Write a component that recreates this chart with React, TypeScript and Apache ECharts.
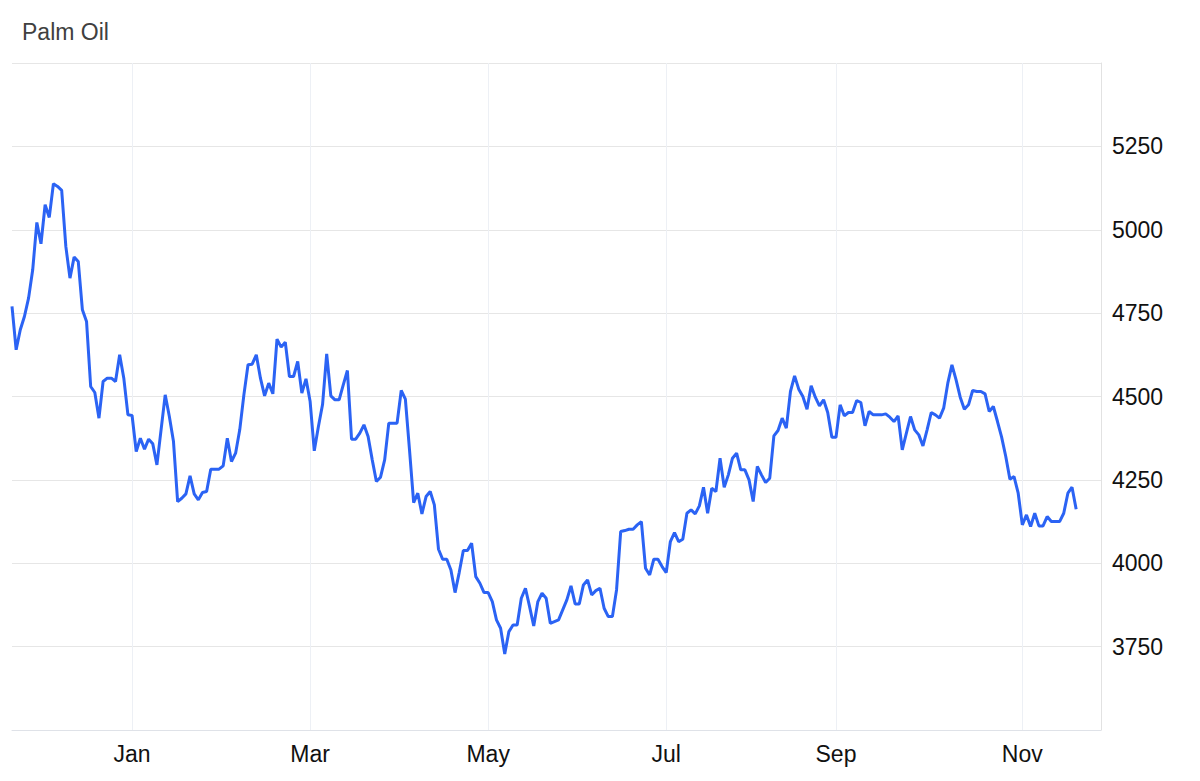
import React, { useEffect, useRef } from "react";
import * as echarts from "echarts";

const title = "Palm Oil";

const prices: number[] = [
  4770, 4640, 4700, 4740, 4795, 4880, 5022, 4958, 5075, 5037,
  5138, 5130, 5118, 4950, 4855, 4918, 4905, 4760, 4725, 4530,
  4512, 4435, 4545, 4555, 4555, 4545, 4625, 4555, 4445, 4443,
  4335, 4375, 4342, 4372, 4358, 4295, 4400, 4505, 4440, 4365,
  4185, 4195, 4208, 4262, 4208, 4190, 4212, 4215, 4282, 4282,
  4282, 4292, 4375, 4305, 4330, 4400, 4505, 4595, 4597, 4625,
  4555, 4502, 4540, 4508, 4672, 4648, 4663, 4560, 4560, 4605,
  4510, 4553, 4485, 4337, 4410, 4476, 4628, 4502, 4490, 4490,
  4535, 4578, 4372, 4372, 4390, 4415, 4380, 4310, 4245, 4258,
  4310, 4420, 4420, 4420, 4518, 4492, 4340, 4182, 4210, 4148,
  4200, 4215, 4175, 4042, 4012, 4012, 3980, 3912, 3972, 4038,
  4038, 4060, 3960, 3940, 3912, 3912, 3885, 3830, 3805, 3728,
  3795, 3815, 3815, 3895, 3925, 3870, 3812, 3885, 3910, 3895,
  3820, 3825, 3830, 3860, 3890, 3932, 3878, 3878, 3935, 3950,
  3905, 3918, 3925, 3865, 3840, 3840, 3920, 4095, 4098, 4102,
  4102, 4115, 4125, 3985, 3965, 4012, 4012, 3990, 3972, 4065,
  4092, 4065, 4072, 4150, 4160, 4148, 4172, 4228, 4150, 4225,
  4215, 4315, 4228, 4265, 4315, 4330, 4280, 4280, 4250, 4185,
  4290, 4265, 4242, 4255, 4382, 4398, 4435, 4405, 4515, 4562,
  4522, 4500, 4462, 4532, 4498, 4472, 4490, 4452, 4378, 4378,
  4475, 4442, 4452, 4452, 4488, 4482, 4412, 4455, 4445, 4445,
  4445, 4448, 4438, 4425, 4442, 4340, 4390, 4440, 4400, 4385,
  4352, 4400, 4452, 4445, 4435, 4465, 4540, 4595, 4550, 4498,
  4462, 4475, 4518, 4515, 4515, 4508, 4455, 4470, 4425, 4378,
  4320, 4252, 4260, 4210, 4115, 4145, 4110, 4150, 4112, 4112,
  4140, 4125, 4125, 4125, 4150, 4210, 4228, 4162,
];

// month tick labels and the trading-day position where each month starts
const monthLabels = ["Jan", "Mar", "May", "Jul", "Sep", "Nov"];
const monthIndex = [29, 72, 115, 158, 199, 244];
// total number of trading-day slots on the axis (data plus empty tail)
const slotCount = 264;

const yTicks = { min: 3500, max: 5500, step: 250 };

export default function App() {
  const ref = useRef<HTMLDivElement>(null);

  useEffect(() => {
    if (!ref.current) return;
    const chart = echarts.init(ref.current, undefined, { renderer: "svg" });

    const categories: string[] = [];
    for (let i = 0; i < slotCount; i++) {
      const k = monthIndex.indexOf(i);
      categories.push(k >= 0 ? monthLabels[k] : String(i));
    }
    const isTick = (idx: number) => monthIndex.indexOf(idx) >= 0;
    const font = "Arial, 'Liberation Sans', Helvetica, sans-serif";

    chart.setOption({
      animation: false,
      backgroundColor: "#ffffff",
      title: {
        text: title,
        left: 17,
        top: 15,
        textStyle: {
          fontSize: 23,
          fontWeight: "normal",
          color: "#404040",
          fontFamily: font,
        },
      },
      grid: { left: 12, right: 99, top: 63, bottom: 51, containLabel: false },
      xAxis: {
        type: "category",
        data: categories,
        boundaryGap: false,
        axisLine: { show: true, lineStyle: { color: "#dfe2e8", width: 1 } },
        axisTick: { show: false },
        axisLabel: {
          interval: (idx: number) => isTick(idx),
          color: "#111111",
          fontSize: 23,
          fontFamily: font,
          margin: 12,
        },
        splitLine: {
          show: true,
          interval: (idx: number) => isTick(idx),
          lineStyle: { color: "#edf0f5", width: 1 },
        },
      },
      yAxis: {
        type: "value",
        position: "right",
        min: yTicks.min,
        max: yTicks.max,
        interval: yTicks.step,
        axisLine: { show: true, lineStyle: { color: "#e2e2e2", width: 1 } },
        axisTick: { show: false },
        axisLabel: {
          showMinLabel: false,
          showMaxLabel: false,
          formatter: (v: number) => String(v),
          color: "#111111",
          fontSize: 23,
          fontFamily: font,
          margin: 11,
        },
        splitLine: { show: true, lineStyle: { color: "#e6e6e6", width: 1 } },
      },
      series: [
        {
          type: "line",
          data: prices,
          showSymbol: false,
          symbol: "none",
          lineStyle: { color: "#2b63f4", width: 3 },
          itemStyle: { color: "#2b63f4" },
        },
      ],
    });

    return () => chart.dispose();
  }, []);

  return (
    <div
      ref={ref}
      style={{ position: "fixed", left: 0, top: 0, width: 1200, height: 781 }}
    />
  );
}
